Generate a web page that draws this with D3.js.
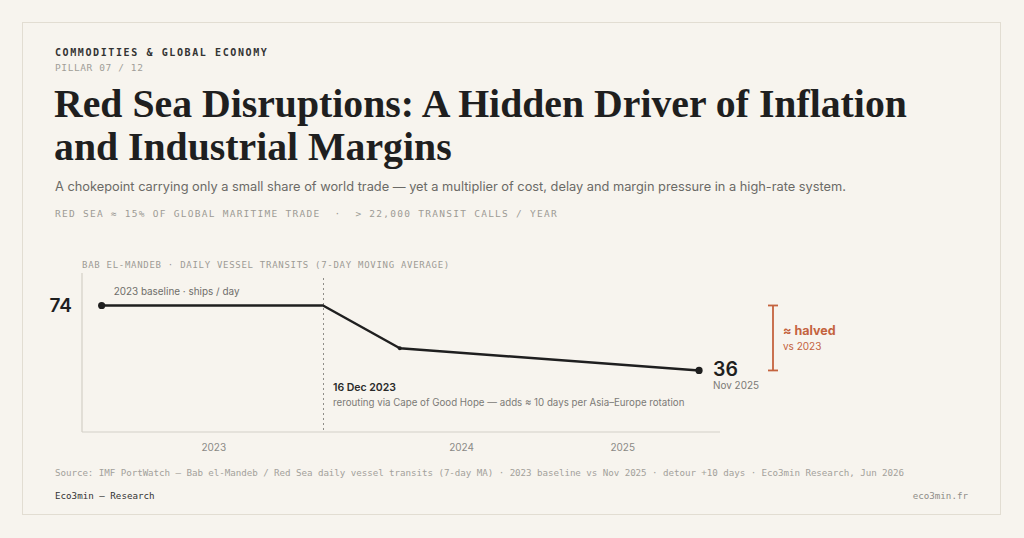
<!DOCTYPE html>
<html>
<head>
<meta charset="utf-8">
<script src="https://cdn.jsdelivr.net/npm/d3@7"></script>
<style>
  html, body { margin: 0; padding: 0; background: #f7f4ee; }
  svg { display: block; }
  .mono { font-family: "DejaVu Sans Mono", "Liberation Mono", monospace; }
  .sans { font-family: Inter, "Noto Sans", sans-serif; }
  .serif { font-family: "Liberation Serif", "DejaVu Serif", serif; }
</style>
</head>
<body>
<svg id="chart" width="1024" height="538"></svg>
<script>
// data
const dates = ["2023-01-01", "2023-12-16", "2024-05-07", "2025-11-15"];
const transits = [74, 74, 49, 36];
const yearTicks = ["2023-06-26", "2024-08-29", "2025-06-25"];
const yearLabels = ["2023", "2024", "2025"];
const titleLines = ["Red Sea Disruptions: A Hidden Driver of Inflation", "and Industrial Margins"];

const parse = d3.timeParse("%Y-%m-%d");
const points = dates.map((d, i) => ({ date: parse(d), value: transits[i] }));

const svg = d3.select("#chart");
const ink = "#1f1f1f", grey = "#8a8a86", rust = "#c4633e";

// shrink/grow a text's font so it spans a given width
function fitWidth(sel, width) {
    const fs0 = +sel.attr("font-size");
    sel.attr("font-size", fs0 * width / sel.node().getComputedTextLength());
    return sel;
}
// spread mono text with letter spacing to span a given width
function spreadWidth(sel, width) {
    sel.attr("letter-spacing", 0);
    const n = sel.text().length;
    sel.attr("letter-spacing", (width - sel.node().getComputedTextLength()) / n);
    return sel;
}

// card
svg.append("rect").attr("x", 22.5).attr("y", 22.5).attr("width", 978).attr("height", 492)
    .attr("fill", "#f7f4ee").attr("stroke", "#e2ddd2");

// header
svg.append("text").attr("class", "mono").attr("x", 55).attr("y", 56)
    .attr("font-size", 10).attr("font-weight", 700).attr("letter-spacing", 1.6).attr("fill", "#333")
    .text("COMMODITIES & GLOBAL ECONOMY");
svg.append("text").attr("class", "mono").attr("x", 55).attr("y", 71)
    .attr("font-size", 9.5).attr("letter-spacing", 0.6).attr("fill", "#a09e98")
    .text("PILLAR 07 / 12");

const title = svg.append("g");
titleLines.forEach((t, i) => {
    title.append("text").attr("class", "serif").attr("x", 54).attr("y", 117 + i * 43)
        .attr("font-size", 36).attr("font-weight", 700).attr("fill", ink).text(t);
});
const first = title.select("text").node();
const fs = 36 * 853 / first.getComputedTextLength();
title.selectAll("text").attr("font-size", fs);

fitWidth(svg.append("text").attr("class", "sans").attr("x", 55).attr("y", 191)
    .attr("font-size", 14).attr("fill", "#6b6a66")
    .text("A chokepoint carrying only a small share of world trade \u2014 yet a multiplier of cost, delay and margin pressure in a high-rate system."), 792);
spreadWidth(svg.append("text").attr("class", "mono").attr("x", 55).attr("y", 217)
    .attr("font-size", 9.5).attr("fill", "#9d9b95").attr("xml:space", "preserve")
    .text("RED SEA \u2248 15% OF GLOBAL MARITIME TRADE  \u00b7  > 22,000 TRANSIT CALLS / YEAR"), 503);

// chart
const plotLeft = 82, plotRight = 720, plotTop = 273, plotBottom = 432;
const x = d3.scaleTime()
    .domain([parse("2022-12-01"), parse("2023-12-16"), parse("2025-12-24")])
    .range([plotLeft, plotLeft + 241, plotRight]);
const y = d3.scaleLinear().domain([0, 93]).range([plotBottom, plotTop]);

spreadWidth(svg.append("text").attr("class", "mono").attr("x", plotLeft).attr("y", 268)
    .attr("font-size", 9).attr("fill", "#9d9b95")
    .text("BAB EL-MANDEB \u00b7 DAILY VESSEL TRANSITS (7-DAY MOVING AVERAGE)"), 368);

// axes
svg.append("line").attr("x1", plotLeft).attr("x2", plotLeft).attr("y1", plotTop).attr("y2", plotBottom)
    .attr("stroke", "#d3cfc7").attr("stroke-width", 1.2);
const xAxis = svg.append("g").attr("transform", `translate(0,${plotBottom})`)
    .call(d3.axisBottom(x).tickValues(yearTicks.map(parse)).tickSize(0).tickPadding(12)
        .tickFormat((d, i) => yearLabels[i]));
xAxis.select(".domain").attr("d", `M${plotLeft},0H${plotRight}`).attr("stroke", "#d3cfc7").attr("stroke-width", 1.2);
xAxis.selectAll("text").attr("class", "sans").attr("font-size", 10).attr("fill", grey);

// event marker
const evt = points[1];
svg.append("line").attr("x1", x(evt.date) + 0.5).attr("x2", x(evt.date) + 0.5)
    .attr("y1", 278).attr("y2", plotBottom)
    .attr("stroke", "#8f8d88").attr("stroke-width", 1).attr("stroke-dasharray", "2,3");

// line
svg.append("path").datum(points)
    .attr("fill", "none").attr("stroke", ink).attr("stroke-width", 2.5).attr("stroke-linejoin", "round")
    .attr("d", d3.line().x(d => x(d.date)).y(d => y(d.value)));

svg.selectAll("circle.pt").data(points).join("circle")
    .attr("class", "pt")
    .attr("cx", d => x(d.date)).attr("cy", d => y(d.value))
    .attr("r", (d, i) => (i === 0 || i === points.length - 1) ? 3.6 : (i === 2 ? 2 : 0))
    .attr("fill", ink);

// labels
const p0 = points[0], pN = points[points.length - 1];
svg.append("text").attr("class", "sans").attr("x", 72).attr("y", y(p0.value) + 6.5)
    .attr("text-anchor", "end").attr("font-size", 19).attr("font-weight", 600).attr("fill", ink)
    .text(p0.value);
fitWidth(svg.append("text").attr("class", "sans").attr("x", x(p0.date) + 12).attr("y", y(p0.value) - 10)
    .attr("font-size", 11).attr("fill", "#6f6e6a")
    .text("2023 baseline \u00b7 ships / day"), 126);

fitWidth(svg.append("text").attr("class", "sans").attr("x", x(evt.date) + 10).attr("y", 391)
    .attr("font-size", 11.5).attr("font-weight", 600).attr("fill", "#2a2a2a")
    .text("16 Dec 2023"), 63);
fitWidth(svg.append("text").attr("class", "sans").attr("x", x(evt.date) + 10).attr("y", 406)
    .attr("font-size", 10.5).attr("fill", "#7b7a76")
    .text("rerouting via Cape of Good Hope \u2014 adds \u2248 10 days per Asia\u2013Europe rotation"), 352);

svg.append("text").attr("class", "sans").attr("x", x(pN.date) + 14).attr("y", y(pN.value) + 6)
    .attr("font-size", 19.5).attr("font-weight", 600).attr("fill", ink)
    .text(pN.value);
fitWidth(svg.append("text").attr("class", "sans").attr("x", x(pN.date) + 14).attr("y", y(pN.value) + 19)
    .attr("font-size", 10.5).attr("fill", "#7b7a76")
    .text("Nov 2025"), 46);

// halved bracket
const bx = 773;
const br = svg.append("g").attr("stroke", rust).attr("stroke-width", 1.8);
br.append("line").attr("x1", bx).attr("x2", bx).attr("y1", y(p0.value)).attr("y2", y(pN.value));
br.append("line").attr("x1", bx - 5).attr("x2", bx + 5).attr("y1", y(p0.value)).attr("y2", y(p0.value));
br.append("line").attr("x1", bx - 5).attr("x2", bx + 5).attr("y1", y(pN.value)).attr("y2", y(pN.value));
svg.append("text").attr("class", "sans").attr("x", bx + 10).attr("y", 335)
    .attr("font-size", 12.5).attr("font-weight", 700).attr("fill", rust)
    .text("\u2248 halved");
svg.append("text").attr("class", "sans").attr("x", bx + 10).attr("y", 350)
    .attr("font-size", 10).attr("fill", rust)
    .text("vs 2023");

// footer
spreadWidth(svg.append("text").attr("class", "mono").attr("x", 55).attr("y", 476)
    .attr("font-size", 9.2).attr("fill", "#a3a19b")
    .text("Source: IMF PortWatch \u2014 Bab el-Mandeb / Red Sea daily vessel transits (7-day MA) \u00b7 2023 baseline vs Nov 2025 \u00b7 detour +10 days \u00b7 Eco3min Research, Jun 2026"), 849);
svg.append("text").attr("class", "mono").attr("x", 55).attr("y", 499)
    .attr("font-size", 9.2).attr("fill", "#333")
    .text("Eco3min \u2014 Research");
svg.append("text").attr("class", "mono").attr("x", 968).attr("y", 499).attr("text-anchor", "end")
    .attr("font-size", 9.2).attr("fill", "#8f8d88")
    .text("eco3min.fr");
</script>
</body>
</html>
